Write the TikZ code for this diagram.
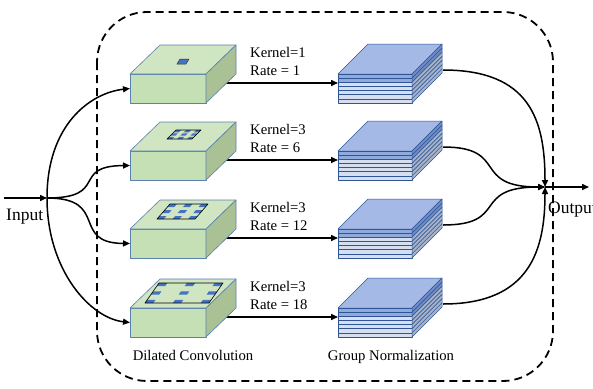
\documentclass[tikz,border=0pt]{standalone}
\usepackage{fontspec}
\setmainfont{Liberation Serif}
\usetikzlibrary{arrows.meta,calc}
\pgfdeclarelayer{bg}
\pgfsetlayers{bg,main}
\definecolor{gfrontc}{HTML}{C5E0B4}
\definecolor{gtopc}{HTML}{D0E5C2}
\definecolor{grightc}{HTML}{A9C194}
\definecolor{glinec}{HTML}{5B80AE}
\definecolor{btopc}{HTML}{A4B9E6}
\definecolor{bbluec}{HTML}{8FAADC}
\definecolor{blightc}{HTML}{D6DFEF}
\definecolor{brbluec}{HTML}{6E8BC6}
\definecolor{brlightc}{HTML}{A6B2C8}
\definecolor{blinec}{HTML}{2F5597}
\definecolor{kbluec}{HTML}{4472C4}
\tikzset{
  arr/.style={line width=1.5pt,-{Triangle[length=7pt,width=6pt]}},
  gface/.style={draw=glinec,line width=0.6pt,line join=round},
  bface/.style={draw=blinec,line width=0.5pt,line join=round},
  anchorbox/.style={inner sep=0pt,outer sep=0pt,draw=none},
  lbl/.style={inner sep=0pt,font=\fontsize{14.7}{17}\selectfont},
  biglbl/.style={inner sep=0pt,font=\fontsize{17.5}{20}\selectfont},
}
% green dilated-convolution box: name, x0, y0 (front top-left)
\newcommand{\greenbox}[3]{%
  \node[anchorbox,minimum width=76pt,minimum height=29pt] (#1) at (#2+38,#3+14.5) {};
  \filldraw[gface,fill=gfrontc] (#2,#3) rectangle ++(76,29);
  \filldraw[gface,fill=gtopc] (#2,#3) -- ++(76,0) -- ++(30,-29) -- ++(-76,0) -- cycle;
  \filldraw[gface,fill=grightc] (#2+76,#3) -- ++(30,-29) -- ++(0,29) -- ++(-30,29) -- cycle;
}
% kernel pattern: Ox, Oy, Ax, Bx, By, sA, sB
\newcommand{\kpat}[7]{%
  \fill[gtopc] (#1,#2) -- ++(#3,0) -- ++(#4,#5) -- ++(-#3,0) -- cycle;
  \foreach \i in {0,1,2}{\foreach \j in {0,1,2}{
    \fill[kbluec] ({#1+\i*(1-#6)/2*#3+\j*(1-#7)/2*#4},{#2+\j*(1-#7)/2*(#5)})
      -- ++({#6*#3},0) -- ++({#7*#4},{#7*(#5)}) -- ++({-#6*#3},0) -- cycle;
  }}
  \draw[black,line width=0.6pt,line join=round] (#1,#2) -- ++(#3,0) -- ++(#4,#5) -- ++(-#3,0) -- cycle;
}
% blue group-normalization stack: name, x0, y0
\newcommand{\bstack}[3]{%
  \node[anchorbox,minimum width=74pt,minimum height=29pt] (#1) at (#2+37,#3+14.5) {};
  \filldraw[bface,fill=btopc] (#2,#3) -- ++(74,0) -- ++(30,-30) -- ++(-74,0) -- cycle;
  \foreach \k in {0,1}{
    \filldraw[bface,fill=bbluec] (#2,{#3+\k*29/7}) rectangle ++(74,{29/7});
    \filldraw[bface,fill=brbluec] (#2+74,{#3+\k*29/7}) -- ++(30,-30) -- ++(0,{29/7}) -- ++(-30,30) -- cycle;
  }
  \foreach \k in {2,...,6}{
    \filldraw[bface,fill=blightc] (#2,{#3+\k*29/7}) rectangle ++(74,{29/7});
    \filldraw[bface,fill=brlightc] (#2+74,{#3+\k*29/7}) -- ++(30,-30) -- ++(0,{29/7}) -- ++(-30,30) -- cycle;
  }
}
\begin{document}
\begin{tikzpicture}[x=1pt,y=-1pt]
\useasboundingbox (0,0) rectangle (593,388);
% dashed frame
\draw[line width=1.8pt,dash pattern=on 8pt off 5pt,rounded corners=50pt] (97,12) rectangle (553,381);

% green boxes
\greenbox{g1}{130}{74}
\greenbox{g2}{130}{151}
\greenbox{g3}{130}{229}
\greenbox{g4}{130}{308}
% kernel patterns
\filldraw[fill=kbluec,draw=black!80,line width=0.5pt] (177,64) -- ++(9,0) -- ++(3,-5) -- ++(-9,0) -- cycle;
\kpat{167}{139}{25}{9}{-9}{0.2}{0.25}
\kpat{157}{219}{38}{13}{-15}{0.18}{0.2}
\kpat{145}{303}{64}{14}{-20}{0.13}{0.16}

% blue stacks
\bstack{b1}{338}{74}
\bstack{b2}{338}{151}
\bstack{b3}{338}{229}
\bstack{b4}{338}{308}

% named coordinates
\coordinate (instart) at (4,198);
\coordinate (in) at (47,198);
\coordinate (out) at (545,187);
\coordinate (outend) at (589,187);
\coordinate (o1) at (443,70);
\coordinate (o2) at (443,147);
\coordinate (o3) at (443,225);
\coordinate (o4) at (443,304);

% labels
\node[lbl,anchor=base west] (k1) at (250,57) {Kernel=1};
\node[lbl,anchor=base west] (r1) at (250,75) {Rate = 1};
\node[lbl,anchor=base west] (k2) at (250,134) {Kernel=3};
\node[lbl,anchor=base west] (r2) at (250,152) {Rate = 6};
\node[lbl,anchor=base west] (k3) at (250,212) {Kernel=3};
\node[lbl,anchor=base west] (r3) at (250,230) {Rate = 12};
\node[lbl,anchor=base west] (k4) at (250,291) {Kernel=3};
\node[lbl,anchor=base west] (r4) at (250,309) {Rate = 18};
\node[lbl,anchor=base] (dc) at (193,360) {Dilated Convolution};
\node[lbl,anchor=base] (gn) at (391,360) {Group Normalization};
\node[biglbl,anchor=base west] (inl) at (6,220) {Input};
\node[biglbl,anchor=base west] (outl) at (548,213) {Output};

\begin{pgfonlayer}{bg}
\fill[white] (0,0) rectangle (593,388);
\draw[arr] (instart) -- (in);
\draw[arr] (in) .. controls (47,125) and (90,93) .. (g1.west);
\draw[arr] (in) .. controls (110,198) and (70,166) .. (g2.west);
\draw[arr] (in) .. controls (110,198) and (70,243) .. (g3.west);
\draw[arr] (in) .. controls (47,270) and (90,318) .. (g4.west);

\draw[arr] ([yshift=5.5pt]g1.east) -- ([yshift=5.5pt]b1.west);
\draw[arr] ([yshift=5.5pt]g2.east) -- ([yshift=5.5pt]b2.west);
\draw[arr] ([yshift=5.5pt]g3.east) -- ([yshift=5.5pt]b3.west);
\draw[arr] ([yshift=5.5pt]g4.east) -- ([yshift=5.5pt]b4.west);

\draw[arr] (o1) .. controls (530,70) and (545,120) .. (out);
\draw[arr] (o2) .. controls (510,147) and (470,187) .. (out);
\draw[arr] (o3) .. controls (510,225) and (470,187) .. (out);
\draw[arr] (o4) .. controls (530,304) and (545,250) .. (out);
\draw[arr] (out) -- (outend);
\end{pgfonlayer}
\end{tikzpicture}
\end{document}
